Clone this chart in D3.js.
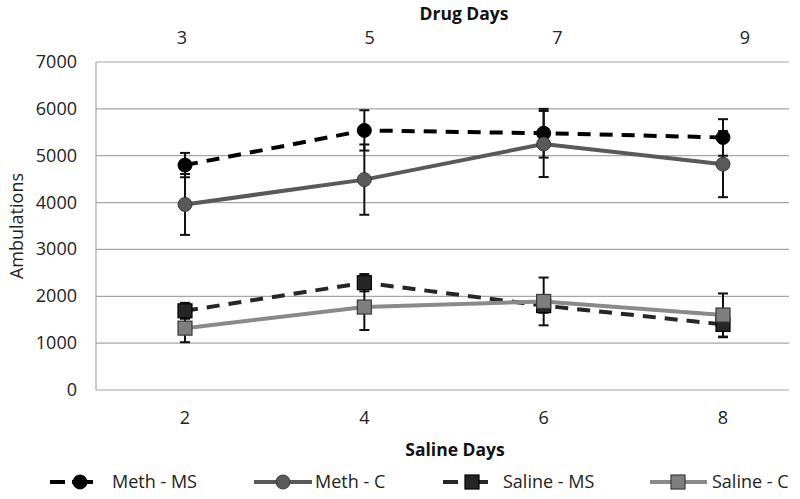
<!DOCTYPE html>
<html><head><meta charset="utf-8">
<script src="https://cdn.jsdelivr.net/npm/d3@7"></script>
<style>body{margin:0;background:#fff}svg{display:block}</style>
</head><body>
<svg id="c" width="800" height="499"></svg>
<script>
const drugDays = [3, 5, 7, 9];
const salineDays = [2, 4, 6, 8];
const yTicks = [0, 1000, 2000, 3000, 4000, 5000, 6000, 7000];
const methMS = [4800, 5540, 5480, 5390];
const methMSErr = [260, 430, 520, 390];
const methC = [3960, 4490, 5250, 4820];
const methCErr = [650, 750, 705, 705];
const salineMS = [1690, 2290, 1800, 1400];
const salineMSErr = [170, 185, 150, 275];
const salineC = [1320, 1770, 1890, 1600];
const salineCErr = [300, 490, 510, 460];
const seriesNames = ["Meth - MS", "Meth - C", "Saline - MS", "Saline - C"];

const font = "'Open Sans', sans-serif";
const fs = 18;
const svg = d3.select("#c");
const L = 96, R = 789, T = 62, B = 390;
const y = d3.scaleLinear().domain([0, 7000]).range([B, T]);
const x = d3.scalePoint().domain(d3.range(4)).range([185, 723]);
const xTop = d3.scalePoint().domain(drugDays).range([182, 745]);

// grid
svg.append("g").selectAll("line").data(yTicks).join("line")
  .attr("x1", L).attr("x2", R).attr("y1", d => y(d)).attr("y2", d => y(d))
  .attr("stroke", "#a6a6a6").attr("stroke-width", 1.2);
svg.append("line").attr("x1", L).attr("x2", L).attr("y1", T).attr("y2", B)
  .attr("stroke", "#a6a6a6").attr("stroke-width", 1.2);

// y labels
svg.append("g").selectAll("text").data(yTicks).join("text")
  .attr("x", 77).attr("y", d => y(d) + 6).attr("text-anchor", "end")
  .attr("font-family", font).attr("font-size", fs).attr("fill", "#222")
  .text(d => d);
svg.append("text").attr("transform", "translate(23,226) rotate(-90)")
  .attr("text-anchor", "middle").attr("font-family", font).attr("font-size", fs).attr("fill", "#222")
  .text("Ambulations");

// top axis
svg.append("g").selectAll("text").data(drugDays).join("text")
  .attr("x", d => xTop(d)).attr("y", 44).attr("text-anchor", "middle")
  .attr("font-family", font).attr("font-size", fs).attr("fill", "#222").text(d => d);
svg.append("text").attr("x", 464).attr("y", 20).attr("text-anchor", "middle")
  .attr("font-family", font).attr("font-size", 17.5).attr("font-weight", "bold").attr("fill", "#111")
  .text("Drug Days");
// bottom axis
svg.append("g").selectAll("text").data(salineDays).join("text")
  .attr("x", (d, i) => x(i)).attr("y", 424).attr("text-anchor", "middle")
  .attr("font-family", font).attr("font-size", fs).attr("fill", "#222").text(d => d);
svg.append("text").attr("x", 455).attr("y", 456).attr("text-anchor", "middle")
  .attr("font-family", font).attr("font-size", 17.5).attr("font-weight", "bold").attr("fill", "#111")
  .text("Saline Days");

const series = [
  {vals: methMS, err: methMSErr, color: "#000", dash: "13,9", ldash: "15,7,40", mk: "circle", fill: "#000", mstroke: "#000", len: 43},
  {vals: methC, err: methCErr, color: "#595959", dash: null, ldash: null, mk: "circle", fill: "#595959", mstroke: "#3a3a3a", len: 58},
  {vals: salineMS, err: salineMSErr, color: "#262626", dash: "13,9", ldash: "15,7,40", mk: "square", fill: "#262626", mstroke: "#000", len: 45},
  {vals: salineC, err: salineCErr, color: "#8a8a8a", dash: null, ldash: null, mk: "square", fill: "#7f7f7f", mstroke: "#3a3a3a", len: 57}
];

const line = d3.line().x((d, i) => x(i)).y(d => y(d));
// error bars
series.forEach(s => {
  const g = svg.append("g").attr("stroke", "#111").attr("stroke-width", 2);
  s.vals.forEach((v, i) => {
    const cx = x(i), y1 = y(v + s.err[i]), y2 = y(v - s.err[i]);
    g.append("line").attr("x1", cx).attr("x2", cx).attr("y1", y1).attr("y2", y2);
    g.append("line").attr("x1", cx - 5).attr("x2", cx + 5).attr("y1", y1).attr("y2", y1);
    g.append("line").attr("x1", cx - 5).attr("x2", cx + 5).attr("y1", y2).attr("y2", y2);
  });
});
function marker(g, s, cx, cy) {
  if (s.mk === "circle") {
    g.append("circle").attr("cx", cx).attr("cy", cy).attr("r", 7)
      .attr("fill", s.fill).attr("stroke", s.mstroke).attr("stroke-width", 1);
  } else {
    g.append("rect").attr("x", cx - 7).attr("y", cy - 7).attr("width", 14).attr("height", 14)
      .attr("fill", s.fill).attr("stroke", s.mstroke).attr("stroke-width", 1.2);
  }
}
series.forEach(s => {
  svg.append("path").attr("d", line(s.vals)).attr("fill", "none")
    .attr("stroke", s.color).attr("stroke-width", 4)
    .attr("stroke-dasharray", s.dash);
  const g = svg.append("g");
  s.vals.forEach((v, i) => marker(g, s, x(i), y(v)));
});

// legend
const legX = [50, 254, 443, 650];
const legMk = [30, 29, 29, 28];
const legText = [112, 315, 503, 712];
const legY = 482;
series.forEach((s, i) => {
  const x0 = legX[i];
  svg.append("line").attr("x1", x0).attr("x2", x0 + s.len).attr("y1", legY).attr("y2", legY)
    .attr("stroke", s.color).attr("stroke-width", 4).attr("stroke-dasharray", s.ldash);
  marker(svg, s, x0 + legMk[i], legY);
  svg.append("text").attr("x", legText[i]).attr("y", legY + 6)
    .attr("font-family", font).attr("font-size", fs).attr("fill", "#222").text(seriesNames[i]);
});
</script>
</body></html>
